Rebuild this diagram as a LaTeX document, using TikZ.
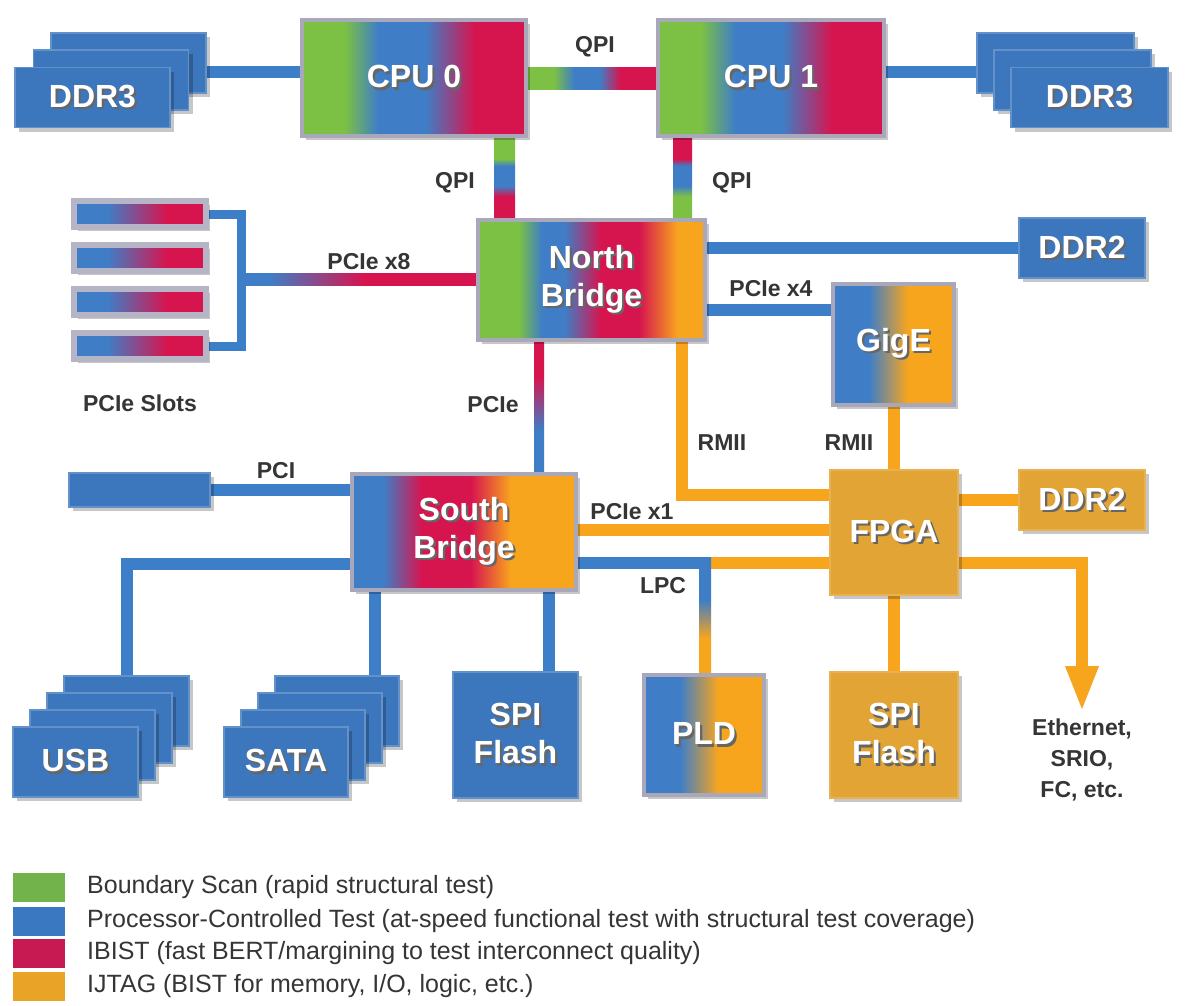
\documentclass[tikz,border=0pt]{standalone}
\usepackage{fontspec}
\setmainfont{Liberation Sans}
\usetikzlibrary{calc,shadows,arrows.meta}
\pgfdeclarelayer{bgzero}
\pgfdeclarelayer{background}
\pgfsetlayers{bgzero,background,main}
\definecolor{cgreen}{HTML}{7CC143}
\definecolor{cblue}{HTML}{3F7EC6}
\definecolor{cred}{HTML}{D6154F}
\definecolor{corange}{HTML}{F8A51E}
\definecolor{cgold}{HTML}{E3A436}
\definecolor{boxblue}{HTML}{3C77BD}
\definecolor{linkblue}{HTML}{3D7EC8}
\definecolor{bgray}{HTML}{A8A8BA}
\definecolor{slotgray}{HTML}{B5B5C5}
\definecolor{lbl}{HTML}{353535}
\definecolor{lgreen}{HTML}{72B34C}
\definecolor{lblue}{HTML}{3A78C2}
\definecolor{lred}{HTML}{C81A52}
\definecolor{lorange}{HTML}{E9A428}
% shadings (stops mapped into the central 25bp..75bp band)
\pgfdeclarehorizontalshading{cpug}{100bp}{color(0bp)=(cgreen); color(34.5bp)=(cgreen); color(42bp)=(cblue); color(52.5bp)=(cblue); color(63.5bp)=(cred); color(100bp)=(cred)}
\pgfdeclarehorizontalshading{nbg}{100bp}{color(0bp)=(cgreen); color(34bp)=(cgreen); color(39bp)=(cblue); color(44bp)=(cblue); color(52bp)=(cred); color(60.5bp)=(cred); color(69bp)=(corange); color(100bp)=(corange)}
\pgfdeclarehorizontalshading{sbg}{100bp}{color(0bp)=(cblue); color(32bp)=(cblue); color(40.5bp)=(cred); color(51.5bp)=(cred); color(60.5bp)=(corange); color(100bp)=(corange)}
\pgfdeclarehorizontalshading{bog}{100bp}{color(0bp)=(cblue); color(40bp)=(cblue); color(56bp)=(corange); color(100bp)=(corange)}
\pgfdeclarehorizontalshading{slotg}{100bp}{color(0bp)=(cblue); color(37.5bp)=(cblue); color(60bp)=(cred); color(100bp)=(cred)}
\pgfdeclarehorizontalshading{qpih}{100bp}{color(0bp)=(cgreen); color(35bp)=(cgreen); color(43bp)=(cblue); color(53bp)=(cblue); color(61bp)=(cred); color(100bp)=(cred)}
\pgfdeclareverticalshading{qpiva}{100bp}{color(0bp)=(cred); color(38.5bp)=(cred); color(45bp)=(cblue); color(57.5bp)=(cblue); color(62bp)=(cgreen); color(100bp)=(cgreen)}
\pgfdeclareverticalshading{qpivb}{100bp}{color(0bp)=(cgreen); color(38.5bp)=(cgreen); color(45bp)=(cblue); color(57.5bp)=(cblue); color(62bp)=(cred); color(100bp)=(cred)}
\pgfdeclarehorizontalshading{xeightg}{100bp}{color(0bp)=(cblue); color(31bp)=(cblue); color(51bp)=(cred); color(100bp)=(cred)}
\pgfdeclareverticalshading{pciev}{100bp}{color(0bp)=(cblue); color(41bp)=(cblue); color(61.5bp)=(cred); color(100bp)=(cred)}
\pgfdeclareverticalshading{lpcv}{100bp}{color(0bp)=(corange); color(40bp)=(corange); color(56.5bp)=(cblue); color(100bp)=(cblue)}
\newcommand\bxfont{\fontsize{32}{38}\selectfont\bfseries}
\newcommand\lbfont{\fontsize{23}{31}\selectfont\bfseries}
\newcommand\lgfont{\fontsize{25}{28}\selectfont}
\newcommand\shtext[1]{\leavevmode\rlap{\kern2.2pt\raisebox{-2.2pt}{\textcolor{black!60}{#1}}}\textcolor{white}{#1}}
\tikzset{
  myshadow/.style={drop shadow={shadow xshift=4pt, shadow yshift=-4pt, fill=black, opacity=0.22}},
  gbox/.style={draw=bgray, line width=4pt, shade, inner sep=0pt, myshadow, font=\bxfont, align=center},
  bbox/.style={fill=boxblue, draw=boxblue!80!white, line width=1.2pt, inner sep=0pt, myshadow, font=\bxfont, align=center},
  obox/.style={fill=cgold, draw=cgold!85!white, line width=1.2pt, inner sep=0pt, myshadow, font=\bxfont, align=center},
  slotbox/.style={draw=slotgray, line width=6pt, shade, shading=slotg, minimum width=132pt, minimum height=26pt, inner sep=0pt, myshadow},
  bluelink/.style={draw=linkblue, line width=12pt},
  orangelink/.style={draw=corange, line width=12pt},
  lab/.style={font=\lbfont, text=lbl, inner sep=0pt, align=center},
  legsq/.style={minimum width=52pt, minimum height=29pt, inner sep=0pt},
  legtxt/.style={font=\lgfont, text=lbl, inner sep=0pt, anchor=west},
}
\begin{document}
\begin{tikzpicture}[x=1pt,y=-1pt]
\begin{pgfonlayer}{bgzero}
\fill[white] (0,0) rectangle (1200,1005);
\end{pgfonlayer}
\useasboundingbox (0,0) rectangle (1200,1005);

% CPUs
\node[gbox, shading=cpug, minimum width=224pt, minimum height=116pt] (cpu0) at (414,78) {\shtext{CPU 0}};
\node[gbox, shading=cpug, minimum width=226pt, minimum height=116pt] (cpu1) at (771,78) {\shtext{CPU 1}};

% DDR3 stacks
\node[bbox, minimum width=155pt, minimum height=60pt] (ddrlc) at (128.5,63) {};
\node[bbox, minimum width=155pt, minimum height=60pt] (ddrlb) at (111,80) {};
\node[bbox, minimum width=155pt, minimum height=60pt] (ddrla) at (92.5,97.5) {\shtext{DDR3}};
\node[bbox, minimum width=157pt, minimum height=60pt] (ddrrc) at (1055.5,63) {};
\node[bbox, minimum width=157pt, minimum height=60pt] (ddrrb) at (1072.5,80) {};
\node[bbox, minimum width=157pt, minimum height=60pt] (ddrra) at (1089.5,97.5) {\shtext{DDR3}};

% North bridge
\node[gbox, shading=nbg, minimum width=227pt, minimum height=120pt] (nb) at (591.5,280) {\shtext{North}\\\shtext{Bridge}};

% PCIe slots
\node[slotbox] (s1) at (140,214) {};
\node[slotbox] (s2) at (140,258) {};
\node[slotbox] (s3) at (140,302) {};
\node[slotbox] (s4) at (140,346) {};
\coordinate (brk) at (241,279);

% DDR2 top
\node[bbox, minimum width=126pt, minimum height=60pt] (ddra) at (1082,248) {\shtext{DDR2}};
% GigE
\node[gbox, shading=bog, minimum width=121pt, minimum height=121pt] (gige) at (893.5,344.5) {\shtext{GigE}};

% South bridge
\node[gbox, shading=sbg, minimum width=224pt, minimum height=116pt] (sb) at (464,532) {\shtext{South}\\\shtext{Bridge}};
% PCI slot
\node[bbox, minimum width=141pt, minimum height=34pt] (pci) at (139.5,490) {};

% FPGA and friends
\node[obox, minimum width=128pt, minimum height=125pt] (fpga) at (894,532.5) {\shtext{FPGA}};
\node[obox, minimum width=126pt, minimum height=60pt] (ddrb) at (1082,500) {\shtext{DDR2}};
\node[gbox, shading=bog, minimum width=120pt, minimum height=120pt] (pld) at (704,735) {\shtext{PLD}};
\node[obox, minimum width=128pt, minimum height=126pt] (spio) at (894,735) {\shtext{SPI}\\\shtext{Flash}};
\node[bbox, minimum width=125pt, minimum height=126pt] (spib) at (515.5,735) {\shtext{SPI}\\\shtext{Flash}};

% SATA stack
\node[bbox, minimum width=124pt, minimum height=70pt] (sata4) at (337,711) {};
\node[bbox, minimum width=124pt, minimum height=70pt] (sata3) at (320,728) {};
\node[bbox, minimum width=124pt, minimum height=70pt] (sata2) at (303,745) {};
\node[bbox, minimum width=124pt, minimum height=70pt] (sata1) at (286,762) {\shtext{SATA}};
% USB stack
\node[bbox, minimum width=125pt, minimum height=70pt] (usb4) at (126.5,711) {};
\node[bbox, minimum width=125pt, minimum height=70pt] (usb3) at (109.5,728) {};
\node[bbox, minimum width=125pt, minimum height=70pt] (usb2) at (92.5,745) {};
\node[bbox, minimum width=125pt, minimum height=70pt] (usb1) at (75.5,762) {\shtext{USB}};

% Ethernet text
\node[lab] (eth) at (1082,760) {Ethernet,\\SRIO,\\FC, etc.};
\coordinate (ethtip) at (1082,712);

% Labels
\node[lab] (lqpih) at (595,47) {QPI};
\node[lab] (lqpia) at (455,183) {QPI};
\node[lab] (lqpib) at (732,183) {QPI};
\node[lab] (lxeight) at (369,262) {PCIe x8};
\node[lab] (lxfour) at (771,289) {PCIe x4};
\node[lab] (lslots) at (140,403) {PCIe Slots};
\node[lab] (lpcie) at (493,405) {PCIe};
\node[lab] (lrmiia) at (722,443) {RMII};
\node[lab] (lrmiib) at (849,443) {RMII};
\node[lab] (lpci) at (276,471) {PCI};
\node[lab] (lxone) at (632,512) {PCIe x1};
\node[lab] (llpc) at (663,586) {LPC};

% Legend
\node[legsq, fill=lgreen] (lg1) at (39,887.5) {};
\node[legsq, fill=lblue] (lg2) at (39,921) {};
\node[legsq, fill=lred] (lg3) at (39,953.5) {};
\node[legsq, fill=lorange] (lg4) at (39,986) {};
\node[legtxt] (lt1) at (87,887.5) {Boundary Scan (rapid structural test)};
\node[legtxt] (lt2) at (87,921) {Processor-Controlled Test (at-speed functional test with structural test coverage)};
\node[legtxt] (lt3) at (87,953.5) {IBIST (fast BERT/margining to test interconnect quality)};
\node[legtxt] (lt4) at (87,986) {IJTAG (BIST for memory, I/O, logic, etc.)};

% Connectors
\begin{pgfonlayer}{background}
\draw[bluelink] ($(ddrlc.east)+(0,9)$) -- ($(cpu0.west |- ddrlc.east)+(0,9)$);
\draw[bluelink] ($(ddrrc.west)+(0,9)$) -- ($(cpu1.east |- ddrrc.west)+(0,9)$);
\shade[shading=qpih] ($(cpu0.east)+(0,-11)$) rectangle ($(cpu1.west)+(0,11)$);
\shade[shading=qpiva] (cpu0.south -| 494,0) rectangle (nb.north -| 515,0);
\shade[shading=qpivb] (cpu1.south -| 673,0) rectangle (nb.north -| 692,0);
\draw[linkblue, line width=9pt] (s1.east) -| (brk) |- (s4.east);
\shade[shading=xeightg] ($(brk)+(0,-6)$) rectangle ($(nb.west |- brk)+(0,6)$);
\draw[bluelink] (nb.east |- ddra.west) -- (ddra.west);
\draw[bluelink] (nb.east |- 0,310) -- (gige.west |- 0,310);
\shade[shading=pciev] (nb.south -| 534,0) rectangle (sb.north -| 544,0);
\draw[orangelink] (nb.south -| 682,0) |- (fpga.west |- 0,495);
\draw[orangelink] (gige.south) -- (gige.south |- fpga.north);
\draw[bluelink] (pci.east) -- (sb.west |- pci.east);
\draw[orangelink] (sb.east |- 0,530) -- (fpga.west |- 0,530);
\draw[bluelink] (sb.east |- 0,563) -- (711,563);
\draw[orangelink] (711,563) -- (fpga.west |- 0,563);
\shade[shading=lpcv] (699,557) rectangle (pld.north -| 711,0);
\draw[orangelink] (fpga.east |- ddrb.west) -- (ddrb.west);
\draw[orangelink, -{Triangle[width=30pt,length=46pt]}] (fpga.east |- 0,563) -| (ethtip);
\draw[orangelink] (fpga.south) -- (spio.north);
\draw[bluelink] (sb.south -| 549,0) -- (spib.north -| 549,0);
\draw[bluelink] (sb.south -| 375,0) -- (sata4.north -| 375,0);
\draw[bluelink] (sb.west |- 0,564) -| (usb4.north);
\end{pgfonlayer}
\end{tikzpicture}
\end{document}
